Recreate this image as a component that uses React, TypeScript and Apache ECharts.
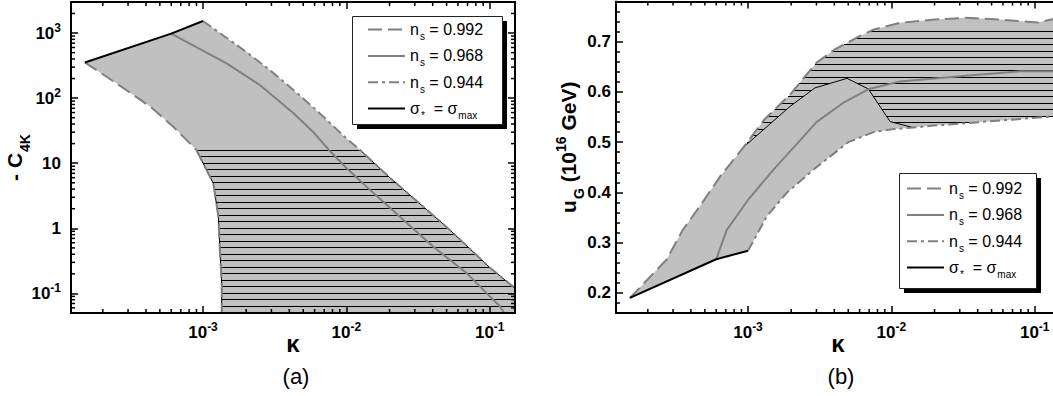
import React, { useEffect, useRef } from 'react';
import * as echarts from 'echarts';

// ---------- axis ranges ----------
const X_MIN = 1.2e-4;
const X_MAX = 0.15;
const YA_MIN = 0.05;
const YA_MAX = 3000;
const YB_MIN = 0.16;
const YB_MAX = 0.78;

// ---------- legend names ----------
const NAME_992 = 'n_s = 0.992';
const NAME_968 = 'n_s = 0.968';
const NAME_944 = 'n_s = 0.944';
const NAME_SIG = 'σ* = σmax';
const LEGEND_NAMES = [NAME_992, NAME_968, NAME_944, NAME_SIG];

// ---------- panel (a): -C_4K vs kappa ----------
const sigmaMaxA = [[1.5e-4, 353], [6e-4, 980], [1e-3, 1530]];
const ns0992A = [
  [1.5e-4, 353], [2.5e-4, 168], [4.3e-4, 73.6], [6.2e-4, 36.3], [8.1e-4, 20.2],
  [9e-4, 15.9], [1.18e-3, 4.9], [1.28e-3, 1.5], [1.31e-3, 0.47], [1.35e-3, 0.144], [1.35e-3, 0.05],
];
const ns0968A = [
  [6e-4, 980], [1.46e-3, 343], [2.49e-3, 159], [4.26e-3, 59.1], [5.87e-3, 30.2], [7.55e-3, 16],
  [1e-2, 8.45], [1.38e-2, 4.37], [2.36e-2, 1.51], [4.04e-2, 0.52], [6.9e-2, 0.205], [0.118, 0.063], [0.13, 0.045],
];
const ns0944A = [
  [1e-3, 1530], [2e-3, 515], [3e-3, 258], [5e-3, 99], [7e-3, 50.6], [1e-2, 24], [0.0125, 15.9],
  [0.02, 6.05], [0.05, 1.05], [0.1, 0.25], [0.15, 0.12],
];
const HATCH_TOP_A = 16;

// ---------- panel (b): u_G vs kappa ----------
const sigmaMaxB = [[1.5e-4, 0.19], [6e-4, 0.267], [1e-3, 0.284]];
const ns0992B = [
  [1.5e-4, 0.19], [2.7e-4, 0.266], [3.5e-4, 0.325], [4.6e-4, 0.372], [6.4e-4, 0.432], [9.3e-4, 0.49],
  [1.3e-3, 0.545], [2e-3, 0.597], [2.45e-3, 0.628], [3e-3, 0.658], [4e-3, 0.684], [6e-3, 0.711],
  [7.5e-3, 0.724], [0.0115, 0.7375], [0.02, 0.744], [0.033, 0.7475], [0.057, 0.744], [0.085, 0.74],
  [0.105, 0.738], [0.13, 0.744], [0.15, 0.746],
];
const ns0968B = [
  [6e-4, 0.267], [7.1e-4, 0.325], [1e-3, 0.385], [1.5e-3, 0.445], [2.3e-3, 0.503], [3e-3, 0.54],
  [4.6e-3, 0.578], [7e-3, 0.606], [0.0115, 0.621], [0.033, 0.632], [0.079, 0.641], [0.15, 0.641],
];
const ns0944B = [
  [1e-3, 0.284], [1.35e-3, 0.352], [1.86e-3, 0.399], [2.85e-3, 0.445], [5e-3, 0.5], [7.5e-3, 0.52],
  [0.0103, 0.526], [0.0142, 0.529], [0.0196, 0.533], [0.0334, 0.538], [0.0572, 0.543], [0.095, 0.548], [0.15, 0.552],
];
const hatchEdgeB = [
  [9.3e-4, 0.49], [1.96e-3, 0.571], [2.93e-3, 0.608], [4.9e-3, 0.627], [6.9e-3, 0.606], [9.8e-3, 0.541], [0.0142, 0.529],
];

// ---------- minor tick values ----------
const X_MINOR = [
  2e-4, 3e-4, 4e-4, 5e-4, 6e-4, 7e-4, 8e-4, 9e-4,
  2e-3, 3e-3, 4e-3, 5e-3, 6e-3, 7e-3, 8e-3, 9e-3,
  2e-2, 3e-2, 4e-2, 5e-2, 6e-2, 7e-2, 8e-2, 9e-2,
];
const YA_MINOR = [
  0.06, 0.07, 0.08, 0.09,
  0.2, 0.3, 0.4, 0.5, 0.6, 0.7, 0.8, 0.9,
  2, 3, 4, 5, 6, 7, 8, 9,
  20, 30, 40, 50, 60, 70, 80, 90,
  200, 300, 400, 500, 600, 700, 800, 900,
  2000,
];

const FONT = '"Liberation Sans", Arial, sans-serif';
const GRAY = '#808080';
const FILL = '#c0c0c0';

// derived polygons (built from the arrays above)
const fillA = [...sigmaMaxA, ...ns0944A.slice(1), [X_MAX, YA_MIN], ...ns0992A.slice().reverse()];
const hatchLeftA = ns0992A.filter((p) => p[1] <= HATCH_TOP_A);
const hatchRightA = ns0944A.filter((p) => p[1] <= HATCH_TOP_A);
const hatchA = [...hatchLeftA, [X_MAX, YA_MIN], ...hatchRightA.slice().reverse()];

const fillB = [...ns0992B, ...ns0944B.slice().reverse(), ...sigmaMaxB.slice().reverse()];
const hatchB = [
  ...ns0992B.filter((p) => p[0] >= hatchEdgeB[0][0]),
  ...ns0944B.filter((p) => p[0] >= hatchEdgeB[hatchEdgeB.length - 1][0]).reverse(),
  ...hatchEdgeB.slice().reverse(),
];

const tickRich = {
  b: { fontFamily: FONT, fontSize: 17, fontWeight: 'bold', color: '#000', lineHeight: 20 },
  p: { fontFamily: FONT, fontSize: 12, fontWeight: 'bold', color: '#000', lineHeight: 20, padding: [0, 0, 11, 0] },
};

const pow10Label = (v: number) => {
  const l = Math.log10(v);
  const e = Math.round(l);
  if (Math.abs(l - e) > 1e-6) return '';
  if (e === 0) return '{b|1}';
  if (e === 1) return '{b|10}';
  return `{b|10}{p|${e}}`;
};

const linLabel = (v: number) => {
  const t = v * 10;
  if (Math.abs(t - Math.round(t)) > 1e-6) return '';
  return `{b|${v.toFixed(1)}}`;
};

function hatchLines(pts: number[][], anchor: number, step: number) {
  let minY = Infinity;
  let maxY = -Infinity;
  pts.forEach((p) => {
    minY = Math.min(minY, p[1]);
    maxY = Math.max(maxY, p[1]);
  });
  const out: any[] = [];
  for (let k = 0; k < 400; k++) {
    const yy = Math.floor(anchor + k * step) + 0.5;
    if (yy > maxY) break;
    if (yy < minY) continue;
    const xs: number[] = [];
    for (let i = 0; i < pts.length; i++) {
      const a = pts[i];
      const b = pts[(i + 1) % pts.length];
      if ((a[1] <= yy && b[1] > yy) || (b[1] <= yy && a[1] > yy)) {
        xs.push(a[0] + ((yy - a[1]) * (b[0] - a[0])) / (b[1] - a[1]));
      }
    }
    xs.sort((m, n) => m - n);
    for (let j = 0; j + 1 < xs.length; j += 2) {
      out.push({
        type: 'line',
        shape: { x1: xs[j], y1: yy, x2: xs[j + 1], y2: yy },
        style: { stroke: '#000', lineWidth: 1 },
      });
    }
  }
  return out;
}

function polySeries(gi: number, pts: number[][], z: number) {
  return {
    type: 'custom',
    xAxisIndex: gi * 2,
    yAxisIndex: gi * 2,
    coordinateSystem: 'cartesian2d',
    data: pts,
    clip: true,
    silent: true,
    z,
    renderItem: (params: any, api: any) => {
      if (params.dataIndex !== 0) return null;
      return {
        type: 'polygon',
        shape: { points: pts.map((p) => api.coord(p)) },
        style: { fill: FILL, stroke: 'none' },
      };
    },
  };
}

function hatchSeries(gi: number, pts: number[][], anchor: number, z: number) {
  return {
    type: 'custom',
    xAxisIndex: gi * 2,
    yAxisIndex: gi * 2,
    coordinateSystem: 'cartesian2d',
    data: pts,
    clip: true,
    silent: true,
    z,
    renderItem: (params: any, api: any) => {
      if (params.dataIndex !== 0) return null;
      const px = pts.map((p) => api.coord(p));
      return { type: 'group', children: hatchLines(px, anchor, 6.5) };
    },
  };
}

function minorTickSeries(gi: number, values: number[], dir: 'x' | 'y', other: number) {
  return {
    type: 'custom',
    xAxisIndex: gi * 2,
    yAxisIndex: gi * 2,
    coordinateSystem: 'cartesian2d',
    data: values.map((v) => (dir === 'x' ? [v, other] : [other, v])),
    clip: false,
    silent: true,
    z: 20,
    renderItem: (params: any, api: any) => {
      const cs = params.coordSys;
      const p = api.coord([api.value(0), api.value(1)]);
      const st = { stroke: '#000', lineWidth: 1.5 };
      if (dir === 'x') {
        return {
          type: 'group',
          children: [
            { type: 'line', shape: { x1: p[0], y1: cs.y + cs.height, x2: p[0], y2: cs.y + cs.height - 4 }, style: st },
            { type: 'line', shape: { x1: p[0], y1: cs.y, x2: p[0], y2: cs.y + 4 }, style: st },
          ],
        };
      }
      return {
        type: 'group',
        children: [
          { type: 'line', shape: { x1: cs.x, y1: p[1], x2: cs.x + 4, y2: p[1] }, style: st },
          { type: 'line', shape: { x1: cs.x + cs.width, y1: p[1], x2: cs.x + cs.width - 4, y2: p[1] }, style: st },
        ],
      };
    },
  };
}

function lineSeries(gi: number, name: string, data: number[][], color: string, width: number, type: any, z: number) {
  return {
    type: 'line',
    name,
    data,
    xAxisIndex: gi * 2,
    yAxisIndex: gi * 2,
    symbol: 'none',
    showSymbol: false,
    clip: true,
    silent: true,
    z,
    lineStyle: { color, width, type },
    itemStyle: { color },
    emphasis: { disabled: true },
  };
}

const DASH = [14, 6];
const DASHDOT = [10, 4, 3, 4];

function axisBase(extra: any) {
  return {
    axisLine: { show: true, onZero: false, lineStyle: { color: '#000', width: 2 } },
    axisTick: { show: true, inside: true, length: 7, lineStyle: { color: '#000', width: 1.5 } },
    splitLine: { show: false },
    nameMoveOverlap: false,
    z: 10,
    ...extra,
  };
}

const nameRich = {
  m: { fontFamily: FONT, fontSize: 21, fontWeight: 'bold', color: '#000', lineHeight: 24 },
  s: { fontFamily: FONT, fontSize: 14, fontWeight: 'bold', color: '#000', lineHeight: 24, padding: [22, 0, 0, 1] },
  p: { fontFamily: FONT, fontSize: 14, fontWeight: 'bold', color: '#000', lineHeight: 24, padding: [0, 0, 14, 0] },
};

const kappaName = {
  name: 'κ',
  nameLocation: 'middle',
  nameGap: 18,
  nameTextStyle: { fontFamily: FONT, fontSize: 24, fontWeight: 'bold', color: '#000' },
};

const legendRich = {
  t: { fontFamily: FONT, fontSize: 16, color: '#000', lineHeight: 18 },
  s: { fontFamily: FONT, fontSize: 10, color: '#000', lineHeight: 18, padding: [14, 0, 0, 1] },
};

const legendFormatter = (name: string) => {
  if (name === NAME_SIG) return '{t|σ}{s|*}{t|  = σ}{s|max}';
  const val = name.split('= ')[1];
  return `{t|n}{s|s}{t| = ${val}}`;
};

function legendAt(left: number, top: number) {
  return {
    data: LEGEND_NAMES,
    orient: 'vertical',
    left,
    top,
    padding: 0,
    itemGap: 2.3,
    itemWidth: 37,
    itemHeight: 14,
    selectedMode: false,
    formatter: legendFormatter,
    itemStyle: { opacity: 0 },
    textStyle: { rich: legendRich, fontFamily: FONT, fontSize: 16, color: '#000' },
    z: 6,
  };
}

export default function App() {
  const ref = useRef<HTMLDivElement>(null);

  useEffect(() => {
    if (!ref.current) return;
    const chart = echarts.init(ref.current, null, { renderer: 'svg' });

    const option: any = {
      animation: false,
      backgroundColor: '#fff',
      grid: [
        { left: 71, top: 2, width: 444, height: 311, containLabel: false, outerBoundsMode: 'none' },
        { left: 616, top: 1.5, width: 444, height: 311.5, containLabel: false, outerBoundsMode: 'none' },
      ],
      xAxis: [
        axisBase({
          type: 'log', logBase: 10, gridIndex: 0, position: 'bottom', min: X_MIN, max: X_MAX,
          axisLabel: { show: true, margin: 9, formatter: pow10Label, rich: tickRich },
          ...kappaName,
        }),
        axisBase({ type: 'log', logBase: 10, gridIndex: 0, position: 'top', min: X_MIN, max: X_MAX, axisLabel: { show: false } }),
        axisBase({
          type: 'log', logBase: 10, gridIndex: 1, position: 'bottom', min: X_MIN, max: X_MAX,
          axisLabel: { show: true, margin: 9, formatter: pow10Label, rich: tickRich },
          ...kappaName,
        }),
        axisBase({ type: 'log', logBase: 10, gridIndex: 1, position: 'top', min: X_MIN, max: X_MAX, axisLabel: { show: false } }),
      ],
      yAxis: [
        axisBase({
          type: 'log', logBase: 10, gridIndex: 0, position: 'left', min: YA_MIN, max: YA_MAX,
          axisLabel: { show: true, margin: 10, formatter: pow10Label, rich: tickRich },
          name: '{m|- C}{s|4K}',
          nameLocation: 'middle',
          nameRotate: 90,
          nameGap: 45,
          nameTextStyle: { rich: nameRich },
        }),
        axisBase({ type: 'log', logBase: 10, gridIndex: 0, position: 'right', min: YA_MIN, max: YA_MAX, axisLabel: { show: false } }),
        axisBase({
          type: 'value', gridIndex: 1, position: 'left', min: YB_MIN, max: YB_MAX,
          minorTick: { show: true, splitNumber: 5, length: 4, lineStyle: { color: '#000', width: 1.5 } },
          axisLabel: { show: true, margin: 5, formatter: linLabel, rich: tickRich },
          name: '{m|u}{s|G}{m| (10}{p|16}{m| GeV)}',
          nameLocation: 'middle',
          nameRotate: 90,
          nameGap: 36,
          nameTextStyle: { rich: nameRich, padding: [0, 0, 0, 20] },
        }),
        axisBase({
          type: 'value', gridIndex: 1, position: 'right', min: YB_MIN, max: YB_MAX,
          minorTick: { show: true, splitNumber: 5, length: 4, lineStyle: { color: '#000', width: 1.5 } },
          axisLabel: { show: false },
        }),
      ],
      legend: [legendAt(367, 17.6), legendAt(906, 176.6)],
      graphic: {
        elements: [
          { type: 'rect', z: 3, shape: { x: 357, y: 21, width: 150, height: 108 }, style: { fill: '#000' } },
          { type: 'rect', z: 3, shape: { x: 352.5, y: 16.5, width: 150, height: 108 }, style: { fill: '#fff', stroke: '#222', lineWidth: 1 } },
          { type: 'rect', z: 3, shape: { x: 904, y: 178, width: 137, height: 115 }, style: { fill: '#000' } },
          { type: 'rect', z: 3, shape: { x: 899.5, y: 173.5, width: 137, height: 115 }, style: { fill: '#fff', stroke: '#222', lineWidth: 1 } },
          { type: 'text', z: 3, x: 296, y: 376, style: { text: '(a)', fontFamily: FONT, fontSize: 22, fill: '#000', textAlign: 'center', textVerticalAlign: 'middle' } },
          { type: 'text', z: 3, x: 841, y: 376, style: { text: '(b)', fontFamily: FONT, fontSize: 22, fill: '#000', textAlign: 'center', textVerticalAlign: 'middle' } },
        ],
      },
      series: [
        // panel (a)
        polySeries(0, fillA, 1),
        hatchSeries(0, hatchA, 150, 2),
        lineSeries(0, 'hatch edge a1', hatchLeftA, '#000', 1, 'solid', 3),
        lineSeries(0, 'hatch edge a2', hatchRightA, '#000', 1, 'solid', 3),
        lineSeries(0, NAME_992, ns0992A, GRAY, 2, DASH, 4),
        lineSeries(0, NAME_968, ns0968A, GRAY, 2, 'solid', 4),
        lineSeries(0, NAME_944, ns0944A, GRAY, 2, DASHDOT, 4),
        lineSeries(0, NAME_SIG, sigmaMaxA, '#000', 2, 'solid', 5),
        minorTickSeries(0, X_MINOR, 'x', 1),
        minorTickSeries(0, YA_MINOR, 'y', 1e-3),
        // panel (b)
        polySeries(1, fillB, 1),
        hatchSeries(1, hatchB, 31.5, 2),
        lineSeries(1, 'hatch edge b', hatchEdgeB, '#000', 1, 'solid', 3),
        lineSeries(1, NAME_992, ns0992B, GRAY, 2, DASH, 4),
        lineSeries(1, NAME_968, ns0968B, GRAY, 2, 'solid', 4),
        lineSeries(1, NAME_944, ns0944B, GRAY, 2, DASHDOT, 4),
        lineSeries(1, NAME_SIG, sigmaMaxB, '#000', 2, 'solid', 5),
        minorTickSeries(1, X_MINOR, 'x', 0.5),
      ],
    };

    chart.setOption(option);
    return () => chart.dispose();
  }, []);

  return (
    <div
      ref={ref}
      style={{ position: 'fixed', left: 0, top: 0, width: 1053, height: 396, background: '#fff' }}
    />
  );
}
